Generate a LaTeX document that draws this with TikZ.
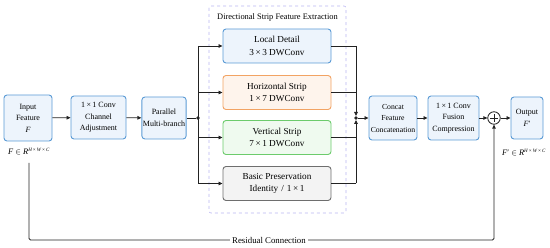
\documentclass[tikz,border=0pt]{standalone}
\usepackage{fontspec}
\setmainfont{Liberation Serif}
\usetikzlibrary{arrows.meta,calc}
\definecolor{bblue}{HTML}{5B9BD5}
\definecolor{fblue}{HTML}{EDF4FC}
\definecolor{borange}{HTML}{F2A363}
\definecolor{forange}{HTML}{FEF4EC}
\definecolor{bgreen}{HTML}{6CCB6C}
\definecolor{fgreen}{HTML}{EFFAEF}
\definecolor{bgray}{HTML}{6E6E6E}
\definecolor{fgray}{HTML}{F3F3F3}
\definecolor{lav}{HTML}{B9B6F2}
\definecolor{ln}{HTML}{222222}
\newcommand{\shp}[1]{\textsuperscript{\fontsize{5}{5}\selectfont\itshape #1}}
\tikzset{
  x=1pt,y=-1pt,
  blk/.style={draw=bblue,fill=fblue,line width=0.9pt,rounded corners=3pt,align=center,font=\fontsize{8}{11.5}\selectfont,inner sep=1pt},
  br/.style={rounded corners=3pt,line width=0.9pt,align=center,font=\fontsize{9.2}{12.5}\selectfont,minimum width=108pt,minimum height=34pt,inner sep=1pt},
  con/.style={draw=ln,line width=0.8pt},
  arr/.style={con,-{Triangle[length=4pt,width=3.6pt]}},
  jdot/.style={circle,fill=ln,inner sep=0pt,minimum size=3.6pt},
  lbl/.style={font=\fontsize{8.4}{9}\selectfont,inner sep=1pt},
}
\begin{document}
\begin{tikzpicture}
\useasboundingbox (0,0) rectangle (550,248);
% dashed group
\draw[lav,dashed,line width=0.6pt,rounded corners=2pt] (209,6) rectangle (346,213);
\node[font=\fontsize{8.4}{9}\selectfont] (title) at (277.5,17) {Directional Strip Feature Extraction};
% left chain
\node[blk,minimum width=48pt,minimum height=46pt] (in) at (28,118) {Input\\Feature\\\textit{F}};
\node[lbl] (fin) at (29,152) {\textit{F} $\in$ \textit{R}\shp{H\,×\,W\,×\,C}};
\node[blk,minimum width=55pt,minimum height=43pt] (conv) at (98.5,117.5) {1\,×\,1 Conv\\Channel\\Adjustment};
\node[blk,minimum width=44pt,minimum height=42pt] (par) at (164,118) {Parallel\\Multi-branch};
\node[jdot] (jl) at (198,118) {};
% branches
\node[br,draw=bblue,fill=fblue] (local) at (277,46) {Local Detail\\3\,×\,3 DWConv};
\node[br,draw=borange,fill=forange] (hor) at (277,92.5) {Horizontal Strip\\1\,×\,7 DWConv};
\node[br,draw=bgreen,fill=fgreen] (ver) at (277,137.5) {Vertical Strip\\7\,×\,1 DWConv};
\node[br,draw=bgray,fill=fgray] (bas) at (277,183.5) {Basic Preservation\\Identity\,\,/\,\,1\,×\,1};
% right chain
\node[blk,minimum width=48pt,minimum height=44pt,font=\fontsize{7.7}{11.5}\selectfont] (cat) at (393,118) {Concat\\Feature\\Concatenation};
\node[blk,minimum width=51pt,minimum height=44pt] (fus) at (453.5,118) {1\,×\,1 Conv\\Fusion\\Compression};
\node[circle,draw=ln,line width=0.8pt,fill=white,minimum size=12.5pt,inner sep=0pt] (plus) at (494,118) {};
\draw[ln,line width=0.8pt] ($(plus.center)+(-3.8,0)$) -- ($(plus.center)+(3.8,0)$) ($(plus.center)+(0,-3.8)$) -- ($(plus.center)+(0,3.8)$);
\node[blk,minimum width=32pt,minimum height=42pt] (out) at (527,118) {Output\\\textit{F}′};
\node[lbl,anchor=west] (fout) at (501,153) {\textit{F}′ $\in$ \textit{R}\shp{H\,×\,W\,×\,C}};
\node[jdot] (jr) at (356,118) {};
% connectors
\draw[arr] (in) -- (conv);
\draw[arr] (conv) -- (par);
\draw[con] (par) -- (jl);
\draw[con] (jl |- local.west) -- (jl |- bas.west);
\draw[arr] (jl |- local.west) -- (local.west);
\draw[arr] (jl |- hor.west) -- (hor.west);
\draw[arr] (jl |- ver.west) -- (ver.west);
\draw[arr] (jl |- bas.west) -- (bas.west);
\draw[con] (local.east) -- (jr |- local.east);
\draw[con] (hor.east) -- (jr |- hor.east);
\draw[con] (ver.east) -- (jr |- ver.east);
\draw[con] (bas.east) -- (jr |- bas.east);
\draw[arr] (jr |- local.east) -- (jr);
\draw[arr] (jr |- bas.east) -- (jr);
\draw[arr] (jr) -- (cat);
\draw[arr] (cat) -- (fus);
\draw[arr] (fus) -- (plus);
\draw[arr] (plus) -- (out);
\coordinate (rs) at (29,163);
\coordinate (rb) at (29,240);
\draw[arr,rounded corners=1.5pt] (rs) -- (rb) -- (rb -| plus) -- (plus.south);
\node[fill=white,font=\fontsize{8.8}{9}\selectfont,inner sep=2.5pt] (rlab) at (269,240) {Residual Connection};
\end{tikzpicture}
\end{document}
